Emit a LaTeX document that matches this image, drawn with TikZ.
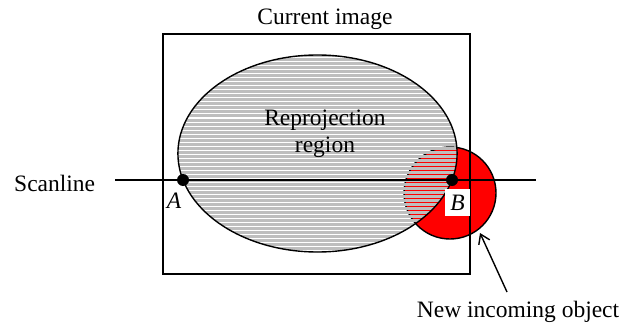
\documentclass[tikz,border=0pt]{standalone}
\usepackage{fontspec}
\setmainfont{Liberation Serif}
\usetikzlibrary{arrows.meta}
\definecolor{stripegray}{RGB}{190,190,190}
\tikzset{
  outline/.style={draw=black, line width=1.4pt},
  dotmark/.style={circle, fill=black, inner sep=0pt, minimum size=12pt},
  lbl/.style={font=\fontsize{23.5}{27}\selectfont, inner sep=0pt},
  ilbl/.style={font=\fontsize{23.5}{27}\selectfont\itshape, inner sep=0pt},
}
\begin{document}
\begin{tikzpicture}[x=1pt,y=-1pt]
\useasboundingbox (0,0) rectangle (631,326);
% red incoming object
\filldraw[fill=red, outline] (450,193) circle (46);
% reprojection region: gray stripes with transparent gaps
\begin{scope}
  \clip (317.5,153.5) ellipse (139.6 and 98.5);
  \foreach \yy in {56,60,...,252} {
    \draw[stripegray, line width=3pt] (170,\yy) -- (465,\yy);
  }
\end{scope}
\draw[outline] (317.5,153.5) ellipse (139.6 and 98.5);
% current image frame
\draw[outline] (163,34) rectangle (470,274);
% scanline
\coordinate (sl0) at (115,180);
\coordinate (sl1) at (536,180);
\draw[outline] (sl0) -- (sl1);
\node[dotmark] (A) at (183,180) {};
\node[dotmark] (B) at (452,180) {};
\node[ilbl] (Alab) at (174,201) {A};
\node[ilbl, fill=white, minimum width=25pt, minimum height=27pt] (Blab) at (457.5,202.5) {B};
\node[lbl] (title) at (325,19) {Current image};
\node[lbl, align=center] (rr) at (325,134) {Reprojection\\region};
\node[lbl, anchor=west] (scan) at (14,183) {Scanline};
\node[lbl] (nio) at (518,312) {New incoming object};
\coordinate (tip) at (480,233);
\coordinate (tail) at (507,292);
\draw[line width=1.4pt, -{Straight Barb[length=9pt,width=12pt]}] (tail) -- (tip);
\end{tikzpicture}
\end{document}
